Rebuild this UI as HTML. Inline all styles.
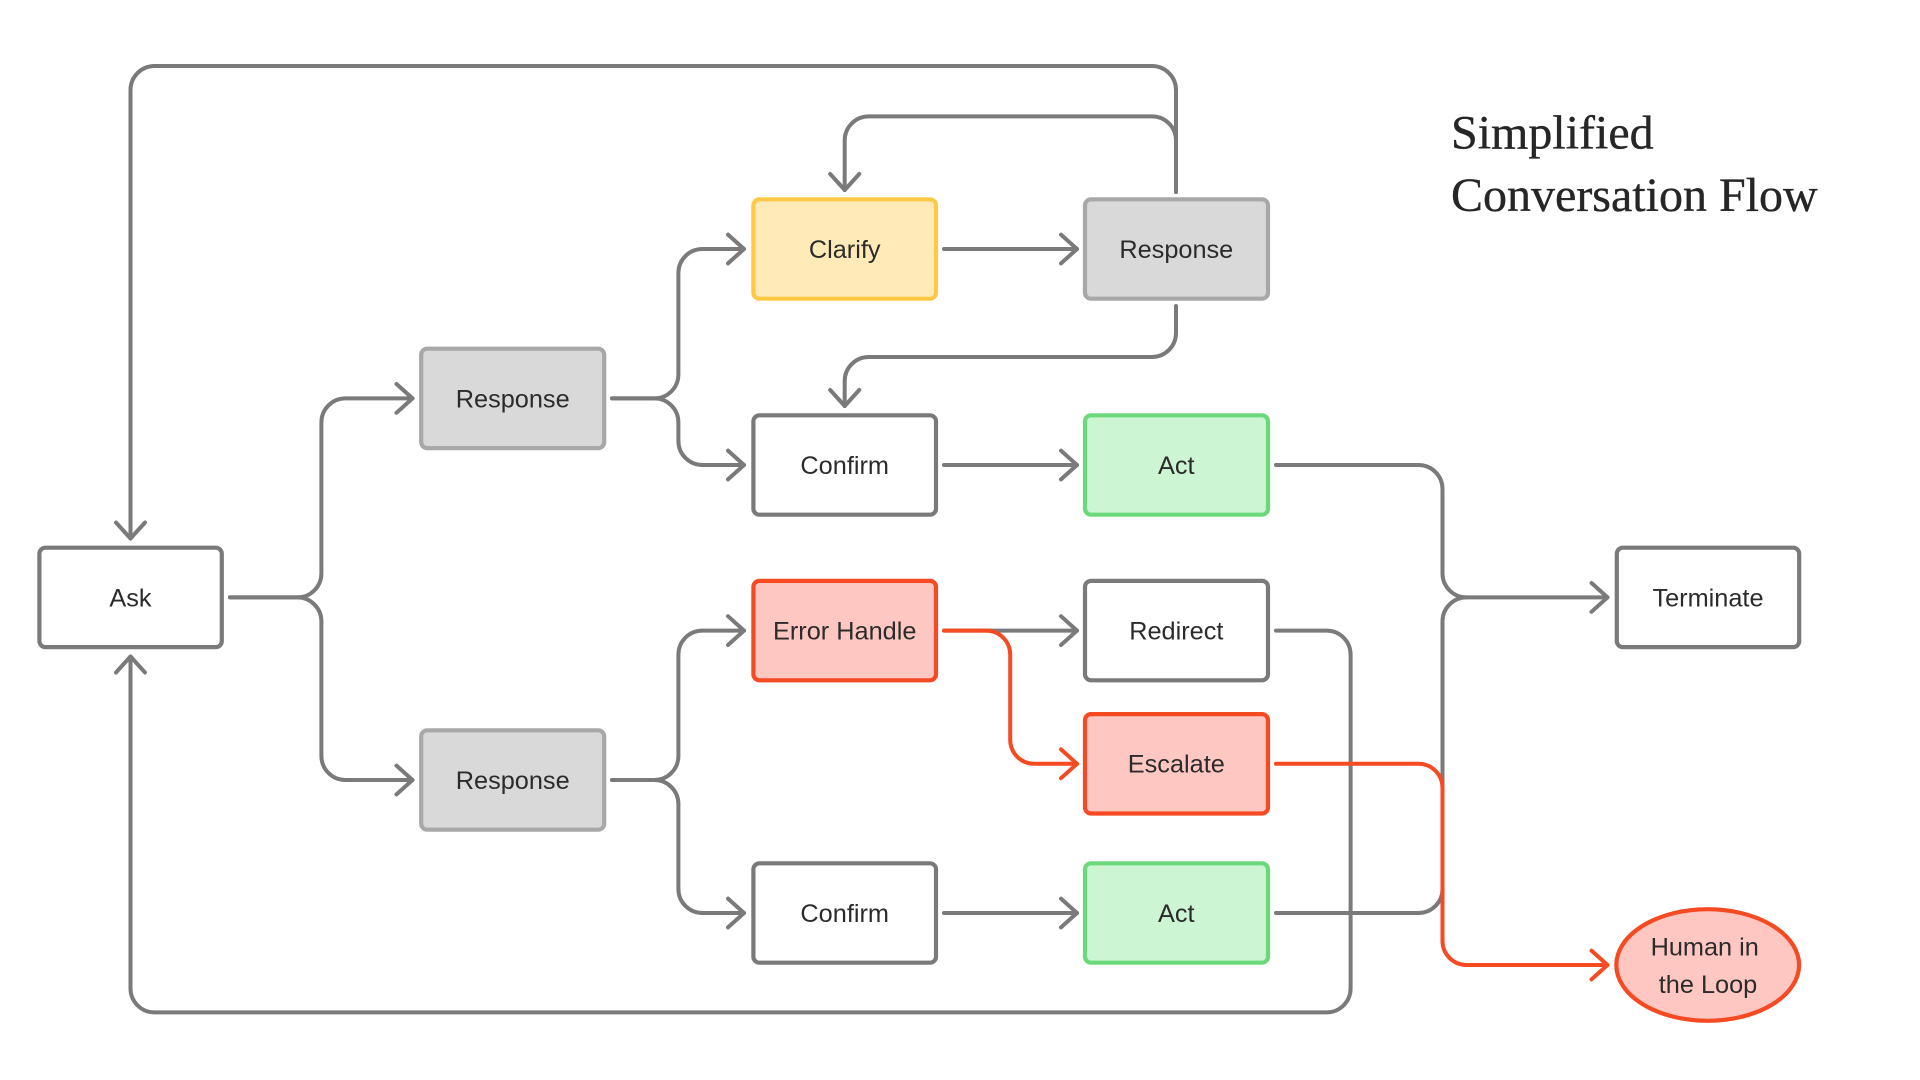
<!DOCTYPE html>
<html lang="en">
<head>
<meta charset="utf-8">
<title>Simplified Conversation Flow</title>
<style>
html,body{margin:0;padding:0;background:#fff;width:1920px;height:1080px;overflow:hidden}
svg{display:block}
.l{fill:none;stroke-width:4;stroke-linecap:round;stroke-linejoin:round}
.g{stroke:#7a7a7a}
.r{stroke:#f54a22}
.n{stroke-width:4.2}
.w{fill:#fff;stroke:#7a7a7a}
.c{fill:#d9d9d9;stroke:#a8a8a8}
.y{fill:#ffeab8;stroke:#ffc845}
.v{fill:#ccf5d3;stroke:#6bd97a}
.p{fill:#ffc7c2;stroke:#f54a22}
text{font-family:"Liberation Sans",sans-serif;font-size:25.3px;fill:#2b2b2b;text-anchor:middle}
.t{font-family:"Liberation Serif",serif;font-size:48px;fill:#262626;text-anchor:start;stroke:#262626;stroke-width:.35}
</style>
</head>
<body>
<svg width="1920" height="1080" viewBox="0 0 1920 1080" xmlns="http://www.w3.org/2000/svg">
<rect width="1920" height="1080" fill="#fff"/>

<!-- gray connectors -->
<g class="l g">
<path d="M230 597.4H297.4A24 24 0 0 0 321.4 573.4V422.4A24 24 0 0 1 345.4 398.4H412.5"/>
<path d="M396.5 384L412.5 398.4L396.5 412.8"/>
<path d="M230 597.4H297.4A24 24 0 0 1 321.4 621.4V756A24 24 0 0 0 345.4 780H412.5"/>
<path d="M396.5 765.6L412.5 780L396.5 794.4"/>

<path d="M612 398.4H654.4A24 24 0 0 0 678.4 374.4V273A24 24 0 0 1 702.4 249H744"/>
<path d="M728 234.6L744 249L728 263.4"/>
<path d="M612 398.4H654.4A24 24 0 0 1 678.4 422.4V441A24 24 0 0 0 702.4 465H744"/>
<path d="M728 450.6L744 465L728 479.4"/>

<path d="M612 780H654.4A24 24 0 0 0 678.4 756V654.6A24 24 0 0 1 702.4 630.6H744"/>
<path d="M728 616.2L744 630.6L728 645"/>
<path d="M612 780H654.4A24 24 0 0 1 678.4 804V889A24 24 0 0 0 702.4 913H744"/>
<path d="M728 898.6L744 913L728 927.4"/>

<path d="M944 249H1077"/>
<path d="M1061 234.6L1077 249L1061 263.4"/>
<path d="M944 465H1077"/>
<path d="M1061 450.6L1077 465L1061 479.4"/>
<path d="M944 630.6H1077"/>
<path d="M1061 616.2L1077 630.6L1061 645"/>
<path d="M944 913H1077"/>
<path d="M1061 898.6L1077 913L1061 927.4"/>

<path d="M1176 192V90A24 24 0 0 0 1152 66H154.5A24 24 0 0 0 130.5 90V538.5"/>
<path d="M116 522.5L130.5 538.5L145 522.5"/>
<path d="M1176 192V140.4A24 24 0 0 0 1152 116.4H868.7A24 24 0 0 0 844.7 140.4V190"/>
<path d="M830.2 174L844.7 190L859.2 174"/>
<path d="M1176 306V333A24 24 0 0 1 1152 357H868.7A24 24 0 0 0 844.7 381V406"/>
<path d="M830.2 390L844.7 406L859.2 390"/>

<path d="M1276 630.6H1326.6A24 24 0 0 1 1350.6 654.6V988.4A24 24 0 0 1 1326.6 1012.4H154.5A24 24 0 0 1 130.5 988.4V656.5"/>
<path d="M116 672.5L130.5 656.5L145 672.5"/>

<path d="M1276 465H1418.5A24 24 0 0 1 1442.5 489V573.4A24 24 0 0 0 1466.5 597.4H1607.5"/>
<path d="M1591.5 583L1607.5 597.4L1591.5 611.8"/>
<path d="M1276 913H1418.5A24 24 0 0 0 1442.5 889V621.4A24 24 0 0 1 1466.5 597.4"/>
</g>

<!-- red connectors -->
<g class="l r">
<path d="M944 630.6H986.2A24 24 0 0 1 1010.2 654.6V739.8A24 24 0 0 0 1034.2 763.8H1077"/>
<path d="M1061 749.4L1077 763.8L1061 778.2"/>
<path d="M1276 763.8H1418.5A24 24 0 0 1 1442.5 787.8V941A24 24 0 0 0 1466.5 965H1607.5"/>
<path d="M1591.5 950.6L1607.5 965L1591.5 979.4"/>
</g>

<!-- nodes -->
<rect class="n w" x="39.4" y="547.7" width="182.4" height="99.4" rx="6"/>
<rect class="n c" x="421.2" y="348.7" width="183" height="99.4" rx="6"/>
<rect class="n c" x="421.2" y="730.3" width="183" height="99.4" rx="6"/>
<rect class="n y" x="753.4" y="199.3" width="182.6" height="99.4" rx="6"/>
<rect class="n w" x="753.4" y="415.3" width="182.6" height="99.4" rx="6"/>
<rect class="n p" x="753.4" y="580.9" width="182.6" height="99.4" rx="6"/>
<rect class="n w" x="753.4" y="863.3" width="182.6" height="99.4" rx="6"/>
<rect class="n c" x="1085" y="199.3" width="183" height="99.4" rx="6"/>
<rect class="n v" x="1085" y="415.3" width="183" height="99.4" rx="6"/>
<rect class="n w" x="1085" y="580.9" width="183" height="99.4" rx="6"/>
<rect class="n p" x="1085" y="714.1" width="183" height="99.4" rx="6"/>
<rect class="n v" x="1085" y="863.3" width="183" height="99.4" rx="6"/>
<rect class="n w" x="1616.8" y="547.7" width="182.4" height="99.4" rx="6"/>
<ellipse class="n p" cx="1707.7" cy="965" rx="91.4" ry="55.8"/>

<!-- labels -->
<text x="130.5" y="606.5">Ask</text>
<text x="512.7" y="407.3">Response</text>
<text x="512.7" y="789">Response</text>
<text x="844.7" y="258">Clarify</text>
<text x="844.7" y="474">Confirm</text>
<text x="844.7" y="639.6">Error Handle</text>
<text x="844.7" y="922">Confirm</text>
<text x="1176.3" y="258">Response</text>
<text x="1176.3" y="474">Act</text>
<text x="1176.3" y="639.6">Redirect</text>
<text x="1176.3" y="772.6">Escalate</text>
<text x="1176.3" y="922">Act</text>
<text x="1708" y="606.5">Terminate</text>
<text x="1704.7" y="955.5">Human in</text>
<text x="1708" y="993">the Loop</text>

<text class="t" x="1451" y="148.7">Simplified</text>
<text class="t" x="1451" y="211">Conversation Flow</text>
</svg>
</body>
</html>
